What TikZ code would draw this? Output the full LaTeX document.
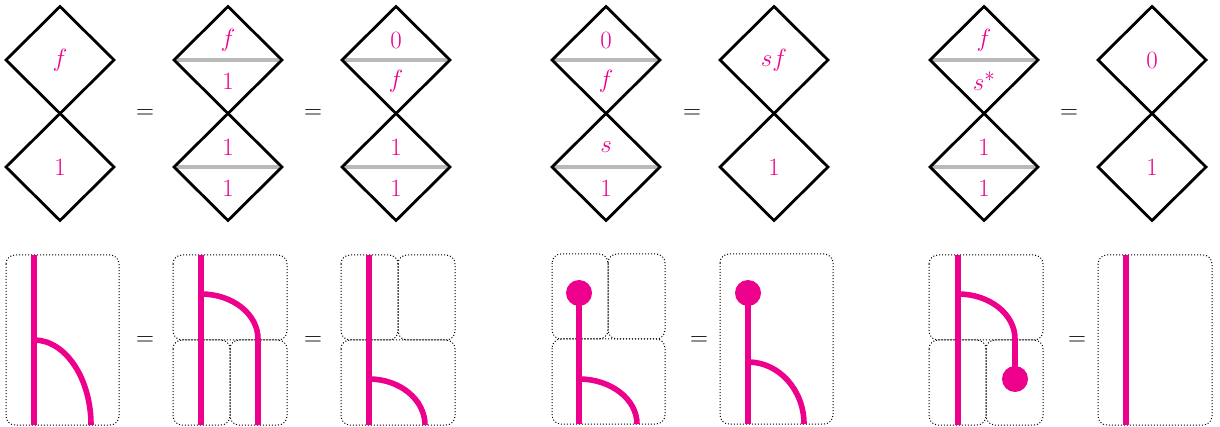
\documentclass[tikz,border=0pt]{standalone}
\usepackage{tikz}
\definecolor{mag}{RGB}{236,0,140}
\definecolor{splitgray}{RGB}{185,185,185}
\tikzset{
  dia/.style={line width=2.8pt, black, line join=miter},
  splitline/.style={line width=3.2pt, splitgray},
  lab/.style={text=mag, inner sep=0pt, font=\fontsize{28.5}{32}\selectfont},
  eqsign/.style={inner sep=0pt, font=\fontsize{26}{30}\selectfont},
  wire/.style={mag, line width=5.6pt},
  box/.style={dash pattern=on 1pt off 2pt, rounded corners=9pt, line width=1pt, black},
  dotend/.style={fill=mag, draw=none},
}
\newcommand\DiaShape[2]{\draw[dia] (#1,#2-53.5) -- (#1+54,#2) -- (#1,#2+53.5) -- (#1-54,#2) -- cycle;}
\newcommand\DSingle[4]{\DiaShape{#2}{#3}\node[lab] (#1) at (#2,#3) {#4};}
\newcommand\DSplit[5]{\draw[splitline] (#2-53,#3) -- (#2+53,#3);\DiaShape{#2}{#3}%
  \node[lab] (#1t) at (#2,#3-20) {#4};\node[lab] (#1b) at (#2,#3+21) {#5};}
\begin{document}
\begin{tikzpicture}[x=1pt,y=-1pt]
\useasboundingbox (0,0) rectangle (1220,427);
% ---------- top row ----------
% group 1
\DSingle{a1}{60}{60}{$f$}
\DSingle{a2}{60}{167}{$1$}
\node[eqsign] (e1) at (145,114) {$=$};
\DSplit{b1}{228}{60}{$f$}{$1$}
\DSplit{b2}{228}{167}{$1$}{$1$}
\node[eqsign] (e2) at (313,114) {$=$};
\DSplit{c1}{396}{60}{$0$}{$f$}
\DSplit{c2}{396}{167}{$1$}{$1$}
% group 2
\DSplit{d1}{606}{60}{$0$}{$f$}
\DSplit{d2}{606}{167}{$s$}{$1$}
\node[eqsign] (e3) at (692,114) {$=$};
\DSingle{g1}{774}{60}{$sf$}
\DSingle{g2}{774}{167}{$1$}
% group 3
\DSplit{h1}{984}{60}{$f$}{$s^*$}
\DSplit{h2}{984}{167}{$1$}{$1$}
\node[eqsign] (e4) at (1069,114) {$=$};
\DSingle{k1}{1152}{60}{$0$}
\DSingle{k2}{1152}{167}{$1$}
% ---------- bottom row ----------
% group 1, box 1
\draw[box] (6,255) rectangle (119,425);
\draw[wire] (34,255) -- (34,425);
\draw[wire] (34,340) .. controls (65.4,340) and (91,378.3) .. (91,425);
\node[eqsign] (e5) at (145,341) {$=$};
% group 1, box 2
\draw[box] (173,255) rectangle (287,340);
\draw[box] (173,340) rectangle (230,425);
\draw[box] (230,340) rectangle (287,425);
\draw[wire] (201,255) -- (201,425);
\draw[wire] (201,294) .. controls (232.4,294) and (258,314) .. (258,339) -- (258,425);
\node[eqsign] (e6) at (313,341) {$=$};
% group 1, box 3
\draw[box] (341,255) rectangle (398,340);
\draw[box] (398,255) rectangle (455,340);
\draw[box] (341,340) rectangle (455,425);
\draw[wire] (369,255) -- (369,425);
\draw[wire] (369,379) .. controls (399.8,379) and (425,399.7) .. (425,425);
% group 2, box A
\draw[box] (552,254) rectangle (608,339);
\draw[box] (608,254) rectangle (665,339);
\draw[box] (552,339) rectangle (665,424);
\draw[wire] (579,293) -- (579,424);
\fill[dotend] (579,293) circle (13);
\draw[wire] (579,379) .. controls (610.9,379) and (637,399.2) .. (637,424);
\node[eqsign] (e7) at (699,341) {$=$};
% group 2, box B
\draw[box] (720,254) rectangle (833,424);
\draw[wire] (748,293) -- (748,424);
\fill[dotend] (748,293) circle (13);
\draw[wire] (748,362) .. controls (778.8,362) and (804,389.9) .. (804,424);
% group 3, box A
\draw[box] (929,255) rectangle (1043,340);
\draw[box] (929,340) rectangle (986,425);
\draw[box] (986,340) rectangle (1043,425);
\draw[wire] (958,255) -- (958,425);
\draw[wire] (958,294) .. controls (989.4,294) and (1015,314) .. (1015,339) -- (1015,379);
\fill[dotend] (1015,379) circle (13);
\node[eqsign] (e8) at (1077,341) {$=$};
% group 3, box B
\draw[box] (1098,255) rectangle (1212,425);
\draw[wire] (1126,255) -- (1126,425);
\end{tikzpicture}
\end{document}
